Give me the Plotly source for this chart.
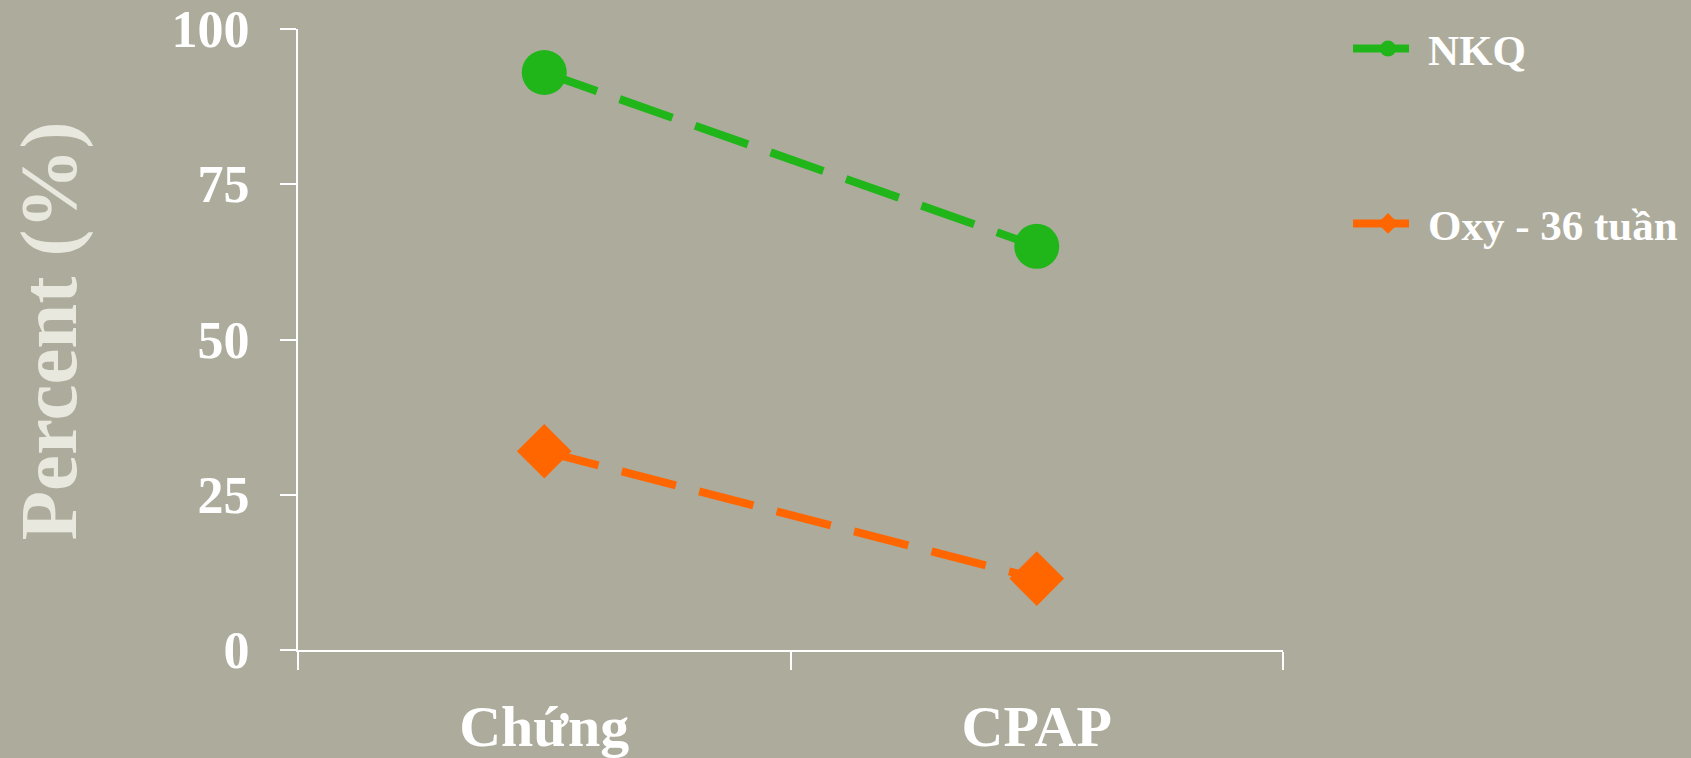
import plotly.graph_objects as go

categories = ["Chứng", "CPAP"]
nkq = [93, 65]
oxy = [32, 11.5]
y_ticks = [0, 25, 50, 75, 100]
y_title = "Percent (%)"

GREEN = "#20b61a"
ORANGE = "#ff6600"
WHITE = "#ffffff"
FONT = "Liberation Serif"

fig = go.Figure()
fig.add_trace(go.Scatter(
    x=categories, y=nkq, name="NKQ", mode="lines+markers", legendgroup="a",
    line=dict(color=GREEN, width=8, dash="56px,24px"),
    marker=dict(symbol="circle", size=45, color=GREEN),
))
fig.add_trace(go.Scatter(
    x=categories, y=oxy, name="Oxy - 36 tuần", mode="lines+markers", legendgroup="b",
    line=dict(color=ORANGE, width=8, dash="56px,24px"),
    marker=dict(symbol="diamond", size=42, color=ORANGE),
))

fig.add_annotation(
    text=y_title, xref="paper", yref="paper", x=-0.2533, y=0.5137,
    xanchor="center", yanchor="middle", textangle=-90, showarrow=False,
    font=dict(family=FONT, size=81, color="#e8e8df", weight="bold"),
)

fig.update_layout(
    width=1691, height=758,
    margin=dict(l=298, r=408, t=29, b=108, autoexpand=False),
    paper_bgcolor="#adac9c", plot_bgcolor="rgba(0,0,0,0)",
    font=dict(family=FONT, color=WHITE),
    showlegend=True,
    legend=dict(
        x=1.066, y=1.024, xanchor="left", yanchor="top",
        bgcolor="rgba(0,0,0,0)",
        font=dict(family=FONT, size=43, color=WHITE, weight="bold"),
        tracegroupgap=116, itemsizing="trace", traceorder="grouped",
        itemwidth=70,
    ),
    xaxis=dict(
        type="category", range=[-0.5, 1.5], showgrid=False, zeroline=False,
        showline=True, linecolor=WHITE, linewidth=2,
        ticks="outside", tickson="boundaries", ticklen=18, tickwidth=2, tickcolor=WHITE,
        tickfont=dict(family=FONT, size=58, color=WHITE, weight="bold"),
        ticklabelstandoff=24,
    ),
    yaxis=dict(
        range=[0, 100], tickvals=y_ticks, showgrid=False, zeroline=False,
        showline=True, linecolor=WHITE, linewidth=2,
        ticks="outside", ticklen=16, tickwidth=2, tickcolor=WHITE,
        tickfont=dict(family=FONT, size=52, color=WHITE, weight="bold"),
        ticklabelstandoff=20,
    ),
)

fig.write_html("out.html", config={"displayModeBar": False},
               post_script="document.body.style.margin='0';")
